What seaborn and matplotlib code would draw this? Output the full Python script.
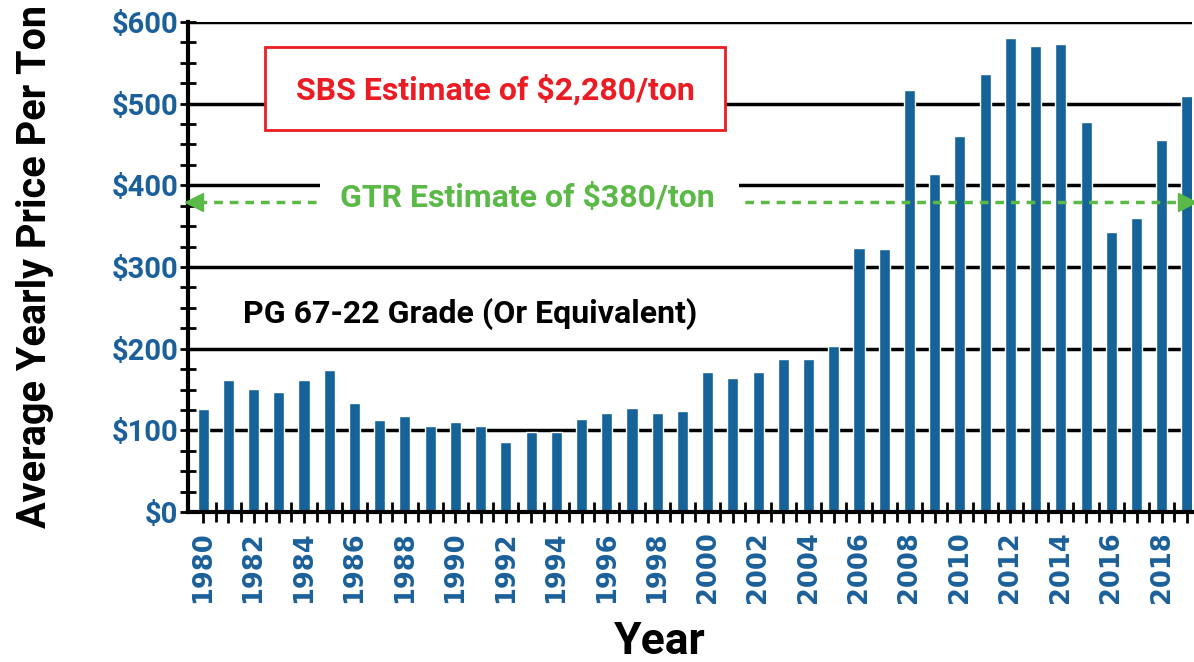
import numpy as np
import pandas as pd
import seaborn as sns
import matplotlib
matplotlib.use("Agg")
import matplotlib.pyplot as plt
from matplotlib.patches import Rectangle
from matplotlib.ticker import MultipleLocator, FixedLocator
import matplotlib.transforms as mtransforms

years = list(range(1980, 2020))
prices = [126, 162, 151, 147, 162, 174, 133, 113, 118, 105,
          110, 105, 86, 98, 98, 114, 121, 127, 121, 124,
          171, 164, 171, 187, 187, 203, 323, 322, 517, 414,
          460, 536, 580, 571, 573, 478, 343, 360, 455, 509]
ytick_vals = [0, 100, 200, 300, 400, 500, 600]
ytick_labels = ["$0", "$100", "$200", "$300", "$400", "$500", "$600"]
gtr_value = 380
sbs_text = "SBS Estimate of $2,280/ton"
gtr_text = "GTR Estimate of $380/ton"
grade_text = "PG 67-22 Grade (Or Equivalent)"

BLUE = "#156399"
TICKBLUE = "#1b609a"
RED = "#ec1c24"
GREEN = "#5bb947"

sns.set_theme(style="white")
cond = ["Roboto", "DejaVu Sans"]
plt.rcParams["font.family"] = cond

df = pd.DataFrame({"year": [str(y) for y in years], "price": prices})

fig = plt.figure(figsize=(11.94, 6.62), dpi=100)
ax = fig.add_axes([188/1194, 150/662, 1004/1194, 490/662])

sns.barplot(data=df, x="year", y="price", color=BLUE, saturation=1,
            width=0.44, ax=ax, zorder=3)

ax.set_xlim(-0.6, len(years) - 1 + 0.2)
ax.set_ylim(0, 600)

# gridlines
ax.set_axisbelow(True)
ax.yaxis.grid(True, color="black", linewidth=2.5)
ax.xaxis.grid(False)
for s in ["top", "right"]:
    ax.spines[s].set_visible(False)
for s in ["left", "bottom"]:
    ax.spines[s].set_linewidth(3)
    ax.spines[s].set_color("black")
    ax.spines[s].set_zorder(5)

# y ticks
ax.set_yticks(ytick_vals)
ax.set_yticklabels(ytick_labels)
ax.yaxis.set_minor_locator(MultipleLocator(25))
ax.tick_params(axis="y", which="both", direction="inout", length=12, width=2,
               color="black", left=True, pad=1)
for t in ax.get_yticklabels():
    t.set_color(TICKBLUE)
    t.set_fontweight("bold")
    t.set_fontsize(21)
    t.set_family(cond)

# x ticks
pos = np.arange(len(years))
ax.set_xticks(pos)
ax.set_xticklabels([str(y) if y % 2 == 0 else "" for y in years])
ax.xaxis.set_minor_locator(FixedLocator(pos[:-1] + 0.5))
ax.tick_params(axis="x", which="major", direction="out", length=8, width=2,
               color="black", bottom=True, pad=6)
ax.tick_params(axis="x", which="minor", direction="inout", length=14, width=2,
               color="black", bottom=True)
for t in ax.get_xticklabels():
    t.set_rotation(90)
    t.set_color(TICKBLUE)
    t.set_fontweight("bold")
    t.set_fontsize(18.5)
    t.set_family(["DejaVu Sans"])

ax.set_xlabel("Year", fontsize=32, fontweight="bold", color="black")
ax.xaxis.set_label_coords(0.47, -0.222)
ax.set_ylabel("Average Yearly Price Per Ton", fontsize=28.5, fontweight="bold", color="black")
ax.yaxis.set_label_coords(-0.133, 0.50)

# SBS box
ax.add_patch(Rectangle((0.0767, 0.780), 0.458, 0.169, transform=ax.transAxes,
                       facecolor="white", edgecolor=RED, linewidth=2, zorder=6))
ax.text(0.306, 0.862, sbs_text, transform=ax.transAxes, ha="center", va="center",
        color=RED, fontsize=23, fontweight="bold", zorder=7)

# GTR line with arrowheads
trans = mtransforms.blended_transform_factory(ax.transAxes, ax.transData)
ax.plot([0.01, 0.99], [gtr_value, gtr_value], transform=trans, color=GREEN,
        linewidth=2.5, linestyle=(0, (2.5, 2)), zorder=6, clip_on=False)
ax.plot([0.006], [gtr_value], transform=trans, marker="<", color=GREEN,
        markersize=13, zorder=6, clip_on=False)
ax.plot([0.995], [gtr_value], transform=trans, marker=">", color=GREEN,
        markersize=13, zorder=6, clip_on=False)
ax.add_patch(Rectangle((0.131, 0.60), 0.418, 0.094, transform=ax.transAxes,
                       facecolor="white", edgecolor="none", zorder=7))
ax.text(0.338, 0.64, gtr_text, transform=ax.transAxes, ha="center", va="center",
        color=GREEN, fontsize=23, fontweight="bold", zorder=8)

ax.text(0.281, 0.405, grade_text, transform=ax.transAxes, ha="center", va="center",
        color="black", fontsize=23, fontweight="bold", zorder=8)

fig.savefig("out.png", dpi=100, facecolor="white")
